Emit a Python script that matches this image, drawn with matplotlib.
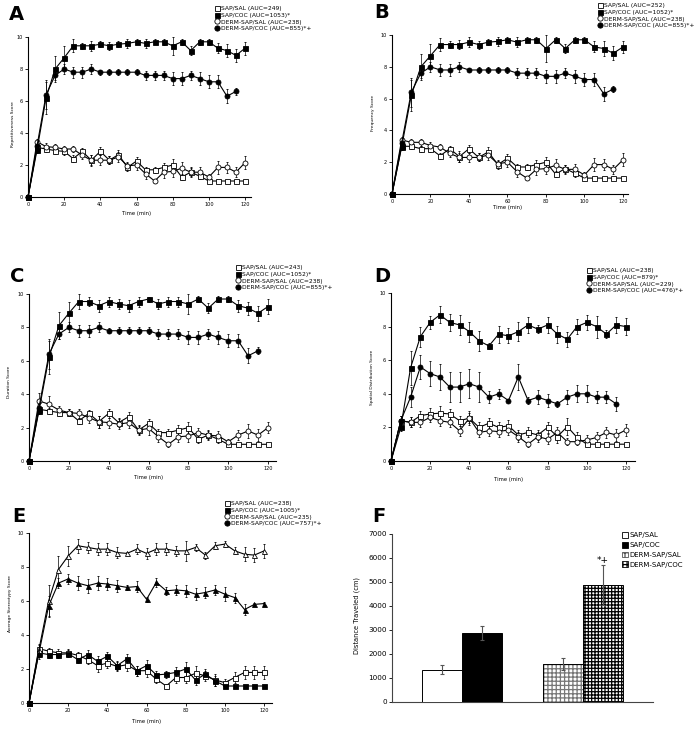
import matplotlib
matplotlib.use('Agg')
import matplotlib.pyplot as plt
from matplotlib.lines import Line2D
from matplotlib.patches import Patch

plt.rcParams['font.family'] = ['DejaVu Sans']
plt.rcParams['hatch.linewidth'] = 0.9

W, H = 698, 729
fig = plt.figure(figsize=(6.98, 7.29), dpi=100)

time = list(range(0, 125, 5))
time_dc = list(range(0, 120, 5))

# ---------------- Panel A: Repetitiveness ----------------
a_sap_sal = [0, 3.1, 3.0, 2.9, 2.85, 2.4, 2.85, 2.3, 2.85, 2.3, 2.65, 1.85, 2.25, 1.7, 1.7, 1.85, 2.0, 1.25, 1.55, 1.3, 1.0, 1.0, 1.0, 1.0, 1.0]
a_sap_sal_err = [0, 0.2, 0.2, 0.2, 0.2, 0.2, 0.2, 0.35, 0.25, 0.25, 0.3, 0.25, 0.25, 0.2, 0.2, 0.3, 0.35, 0.2, 0.25, 0.2, 0.1, 0, 0, 0, 0]
a_sap_coc = [0, 2.95, 6.2, 8.0, 8.7, 9.45, 9.45, 9.45, 9.55, 9.45, 9.55, 9.6, 9.7, 9.6, 9.7, 9.7, 9.45, 9.7, 9.15, 9.7, 9.7, 9.3, 9.15, 8.85, 9.3]
a_sap_coc_err = [0, 0.2, 1.0, 0.8, 0.75, 0.4, 0.2, 0.3, 0.2, 0.25, 0.2, 0.3, 0.15, 0.3, 0.15, 0.2, 0.55, 0.2, 0.3, 0.2, 0.2, 0.3, 0.4, 0.4, 0.4]
a_derm_sal = [0, 3.45, 3.15, 3.1, 3.0, 3.0, 2.6, 2.3, 2.3, 2.3, 2.5, 1.95, 2.0, 1.45, 1.0, 1.55, 1.6, 1.8, 1.55, 1.55, 1.25, 1.85, 1.85, 1.55, 2.15]
a_derm_sal_err = [0, 0.2, 0.2, 0.2, 0.2, 0.2, 0.25, 0.3, 0.3, 0.25, 0.3, 0.25, 0.3, 0.3, 0.15, 0.35, 0.35, 0.4, 0.3, 0.35, 0.2, 0.4, 0.35, 0.3, 0.4]
a_derm_coc = [0, 3.2, 6.4, 7.6, 8.0, 7.8, 7.8, 8.0, 7.8, 7.8, 7.8, 7.8, 7.8, 7.6, 7.6, 7.6, 7.4, 7.4, 7.6, 7.4, 7.2, 7.2, 6.3, 6.6]
a_derm_coc_err = [0, 0.2, 0.9, 0.3, 0.3, 0.35, 0.35, 0.3, 0.15, 0.2, 0.2, 0.2, 0.2, 0.3, 0.3, 0.3, 0.4, 0.4, 0.3, 0.4, 0.4, 0.4, 0.45, 0.2]
a_labels = ['SAP/SAL (AUC=249)', 'SAP/COC (AUC=1053)*', 'DERM-SAP/SAL (AUC=238)', 'DERM-SAP/COC (AUC=855)*+']

# ---------------- Panel B: Frequency ----------------
b_sap_sal = [0, 3.0, 3.0, 2.85, 2.85, 2.4, 2.85, 2.35, 2.85, 2.3, 2.65, 1.85, 2.25, 1.7, 1.7, 1.85, 2.0, 1.25, 1.6, 1.3, 1.0, 1.0, 1.0, 1.0, 1.0]
b_sap_sal_err = [0, 0.2, 0.2, 0.2, 0.2, 0.2, 0.2, 0.35, 0.25, 0.25, 0.3, 0.25, 0.25, 0.2, 0.2, 0.3, 0.35, 0.2, 0.25, 0.2, 0.1, 0, 0, 0, 0]
b_sap_coc = [0, 2.95, 6.2, 8.0, 8.7, 9.4, 9.4, 9.4, 9.55, 9.4, 9.55, 9.6, 9.7, 9.55, 9.7, 9.7, 9.15, 9.7, 9.15, 9.7, 9.7, 9.25, 9.15, 8.85, 9.25]
b_sap_coc_err = [0, 0.2, 1.0, 0.8, 0.75, 0.4, 0.2, 0.3, 0.3, 0.25, 0.2, 0.3, 0.15, 0.3, 0.15, 0.2, 0.85, 0.2, 0.3, 0.2, 0.2, 0.35, 0.45, 0.45, 0.4]
b_derm_sal = [0, 3.4, 3.25, 3.25, 3.05, 2.95, 2.55, 2.3, 2.3, 2.3, 2.45, 1.9, 2.0, 1.4, 1.0, 1.55, 1.6, 1.8, 1.55, 1.55, 1.2, 1.85, 1.85, 1.55, 2.15]
b_derm_sal_err = [0, 0.2, 0.2, 0.2, 0.2, 0.2, 0.25, 0.3, 0.3, 0.25, 0.3, 0.25, 0.3, 0.3, 0.15, 0.35, 0.35, 0.4, 0.3, 0.35, 0.2, 0.4, 0.35, 0.3, 0.4]
b_derm_coc = [0, 3.2, 6.4, 7.6, 8.0, 7.8, 7.8, 8.0, 7.8, 7.8, 7.8, 7.8, 7.8, 7.6, 7.6, 7.6, 7.4, 7.4, 7.6, 7.4, 7.2, 7.2, 6.3, 6.6]
b_derm_coc_err = [0, 0.2, 0.9, 0.3, 0.3, 0.35, 0.35, 0.3, 0.15, 0.2, 0.2, 0.2, 0.2, 0.3, 0.3, 0.3, 0.4, 0.4, 0.3, 0.4, 0.4, 0.4, 0.45, 0.2]
b_labels = ['SAP/SAL (AUC=252)', 'SAP/COC (AUC=1052)*', 'DERM-SAP/SAL (AUC=238)', 'DERM-SAP/COC (AUC=855)*+']

# ---------------- Panel C: Duration ----------------
c_sap_sal = [0, 3.1, 3.0, 2.9, 2.9, 2.4, 2.85, 2.35, 2.85, 2.3, 2.65, 1.85, 2.25, 1.7, 1.7, 1.85, 2.0, 1.3, 1.55, 1.3, 1.0, 1.0, 1.0, 1.0, 1.0]
c_sap_sal_err = [0, 0.2, 0.2, 0.2, 0.2, 0.2, 0.2, 0.35, 0.25, 0.25, 0.3, 0.25, 0.25, 0.2, 0.2, 0.3, 0.35, 0.2, 0.25, 0.2, 0.1, 0, 0, 0, 0]
c_sap_coc = [0, 3.0, 6.2, 8.1, 8.85, 9.55, 9.55, 9.3, 9.55, 9.4, 9.3, 9.55, 9.7, 9.4, 9.55, 9.55, 9.4, 9.7, 9.15, 9.7, 9.7, 9.3, 9.15, 8.85, 9.25]
c_sap_coc_err = [0, 0.2, 1.0, 0.8, 0.7, 0.45, 0.25, 0.35, 0.3, 0.3, 0.35, 0.3, 0.15, 0.3, 0.3, 0.3, 0.6, 0.2, 0.3, 0.2, 0.2, 0.35, 0.4, 0.45, 0.45]
c_derm_sal = [0, 3.6, 3.4, 3.05, 2.9, 2.85, 2.6, 2.35, 2.3, 2.2, 2.3, 1.85, 1.95, 1.45, 1.0, 1.45, 1.5, 1.7, 1.55, 1.5, 1.15, 1.55, 1.8, 1.55, 2.0]
c_derm_sal_err = [0, 0.45, 0.5, 0.25, 0.2, 0.25, 0.3, 0.35, 0.3, 0.3, 0.35, 0.3, 0.4, 0.3, 0.15, 0.3, 0.35, 0.3, 0.3, 0.3, 0.15, 0.3, 0.4, 0.35, 0.35]
c_derm_coc = [0, 3.2, 6.4, 7.6, 8.0, 7.8, 7.8, 8.0, 7.8, 7.8, 7.8, 7.8, 7.8, 7.6, 7.6, 7.6, 7.4, 7.4, 7.6, 7.4, 7.2, 7.2, 6.3, 6.6]
c_derm_coc_err = [0, 0.2, 0.9, 0.3, 0.3, 0.35, 0.35, 0.3, 0.15, 0.2, 0.2, 0.2, 0.2, 0.3, 0.3, 0.3, 0.4, 0.4, 0.3, 0.4, 0.4, 0.4, 0.45, 0.2]
c_labels = ['SAP/SAL (AUC=243)', 'SAP/COC (AUC=1052)*', 'DERM-SAP/SAL (AUC=238)', 'DERM-SAP/COC (AUC=855)*+']

# ---------------- Panel D: Spatial distribution ----------------
d_sap_sal = [0, 2.4, 2.3, 2.7, 2.8, 2.85, 2.8, 2.4, 2.55, 2.0, 2.25, 2.0, 2.1, 1.55, 1.7, 1.55, 2.0, 1.45, 2.05, 1.4, 1.0, 1.0, 1.0, 1.0, 1.0]
d_sap_sal_err = [0, 0.3, 0.3, 0.3, 0.35, 0.4, 0.3, 0.3, 0.4, 0.3, 0.3, 0.3, 0.35, 0.3, 0.3, 0.3, 0.35, 0.4, 0.5, 0.35, 0.1, 0, 0, 0, 0]
d_sap_coc = [0, 2.0, 5.55, 7.4, 8.25, 8.7, 8.25, 8.1, 7.7, 7.15, 6.85, 7.55, 7.45, 7.7, 8.1, 7.85, 8.1, 7.55, 7.25, 8.0, 8.25, 8.0, 7.55, 8.1, 8.0]
d_sap_coc_err = [0, 0.2, 1.0, 0.6, 0.4, 0.5, 0.5, 0.6, 0.6, 0.6, 0.2, 0.5, 0.45, 0.55, 0.5, 0.25, 0.5, 0.5, 0.45, 0.45, 0.45, 0.65, 0.25, 0.5, 0.5]
d_derm_sal = [0, 2.4, 2.3, 2.3, 2.6, 2.4, 2.3, 1.8, 2.55, 1.7, 1.8, 1.75, 1.85, 1.45, 1.0, 1.45, 1.3, 1.7, 1.15, 1.15, 1.25, 1.4, 1.7, 1.55, 1.85]
d_derm_sal_err = [0, 0.3, 0.3, 0.3, 0.3, 0.3, 0.3, 0.3, 0.3, 0.3, 0.3, 0.3, 0.3, 0.3, 0.15, 0.3, 0.3, 0.3, 0.2, 0.2, 0.3, 0.3, 0.35, 0.35, 0.35]
d_derm_coc = [0, 2.4, 3.8, 5.6, 5.2, 5.0, 4.4, 4.4, 4.6, 4.4, 3.8, 4.0, 3.6, 5.0, 3.6, 3.8, 3.6, 3.4, 3.8, 4.0, 4.0, 3.8, 3.8, 3.4]
d_derm_coc_err = [0, 0.3, 0.6, 0.7, 0.75, 0.75, 0.9, 0.9, 0.85, 0.9, 0.35, 0.3, 0.1, 0.75, 0.2, 0.4, 0.4, 0.2, 0.4, 0.5, 0.5, 0.35, 0.35, 0.4]
d_labels = ['SAP/SAL (AUC=238)', 'SAP/COC (AUC=879)*', 'DERM-SAP/SAL (AUC=229)', 'DERM-SAP/COC (AUC=476)*+']

# ---------------- Panel E: Average stereotypy ----------------
e_sap_sal = [0, 2.95, 2.85, 2.85, 2.9, 2.55, 2.85, 2.45, 2.75, 2.2, 2.6, 1.9, 2.2, 1.65, 1.7, 1.8, 2.0, 1.35, 1.7, 1.3, 1.0, 1.0, 1.0, 1.0, 1.0]
e_sap_sal_err = [0, 0.2, 0.2, 0.2, 0.2, 0.2, 0.25, 0.3, 0.25, 0.25, 0.3, 0.3, 0.35, 0.25, 0.2, 0.3, 0.4, 0.3, 0.3, 0.3, 0.1, 0, 0, 0, 0]
e_sap_coc = [0, 3.1, 6.0, 7.85, 8.65, 9.25, 9.15, 9.05, 9.05, 8.85, 8.8, 9.05, 8.8, 9.05, 9.05, 8.95, 8.95, 9.15, 8.7, 9.25, 9.35, 8.95, 8.75, 8.7, 8.95]
e_sap_coc_err = [0, 0.4, 0.95, 0.8, 0.6, 0.4, 0.35, 0.35, 0.35, 0.3, 0.1, 0.3, 0.3, 0.35, 0.35, 0.3, 0.6, 0.2, 0.2, 0.2, 0.2, 0.2, 0.4, 0.4, 0.4]
e_derm_sal = [0, 3.2, 3.05, 2.95, 2.95, 2.8, 2.55, 2.2, 2.35, 2.15, 2.25, 1.9, 1.9, 1.4, 1.0, 1.5, 1.5, 1.75, 1.6, 1.35, 1.2, 1.5, 1.8, 1.8, 1.8]
e_derm_sal_err = [0, 0.2, 0.2, 0.2, 0.2, 0.2, 0.25, 0.4, 0.3, 0.25, 0.35, 0.3, 0.35, 0.25, 0.1, 0.35, 0.35, 0.4, 0.3, 0.35, 0.2, 0.35, 0.4, 0.4, 0.4]
e_derm_coc = [0, 2.9, 5.7, 7.05, 7.3, 7.05, 6.9, 7.05, 7.0, 6.9, 6.8, 6.85, 6.1, 7.1, 6.6, 6.65, 6.6, 6.4, 6.5, 6.65, 6.4, 6.2, 5.5, 5.8, 5.85]
e_derm_coc_err = [0, 0.3, 0.6, 0.3, 0.3, 0.4, 0.4, 0.4, 0.35, 0.35, 0.15, 0.3, 0.15, 0.25, 0.25, 0.3, 0.35, 0.35, 0.35, 0.3, 0.4, 0.3, 0.3, 0.1, 0.1]
e_labels = ['SAP/SAL (AUC=238)', 'SAP/COC (AUC=1005)*', 'DERM-SAP/SAL (AUC=235)', 'DERM-SAP/COC (AUC=757)*+']

# ---------------- Panel F: Distance traveled ----------------
f_groups = ['SAP/SAL', 'SAP/COC', 'DERM-SAP/SAL', 'DERM-SAP/COC']
f_values = [1350, 2870, 1600, 4870]
f_errors = [180, 300, 250, 830]
f_positions = [1.25, 2.25, 4.27, 5.27]


def add_ax(l, t, r, b):
    return fig.add_axes([l / W, 1 - b / H, (r - l) / W, (b - t) / H])


def style_ax(ax, tick_fs=3.6):
    for s in ['top', 'right']:
        ax.spines[s].set_visible(False)
    for s in ['left', 'bottom']:
        ax.spines[s].set_linewidth(0.8)
    ax.tick_params(direction='out', length=2, width=0.6, labelsize=tick_fs, pad=1.5)


def plot_series(ax, x, y, err, marker, filled, ms=3.6, z=3):
    ax.errorbar(x, y, yerr=err, color='black', lw=0.8, marker=marker, ms=ms,
                mfc='black' if filled else 'white', mec='black', mew=0.6,
                elinewidth=0.5, capsize=1.0, capthick=0.5, clip_on=False, zorder=z)


def legend_for(ax, labels, px, py, fs=4.3, spacing=0.25):
    handles = [
        Line2D([], [], ls='none', marker='s', ms=3.6, mfc='white', mec='black', mew=0.6),
        Line2D([], [], ls='none', marker='s', ms=3.6, mfc='black', mec='black', mew=0.6),
        Line2D([], [], ls='none', marker='o', ms=3.8, mfc='white', mec='black', mew=0.6),
        Line2D([], [], ls='none', marker='o', ms=3.8, mfc='black', mec='black', mew=0.6),
    ]
    ax.legend(handles, labels, loc='upper left', bbox_to_anchor=(px / W, 1 - py / H),
              bbox_transform=fig.transFigure, frameon=False, fontsize=fs,
              handlelength=1.0, handletextpad=0.2, labelspacing=spacing,
              borderpad=0, borderaxespad=0)


def line_panel(box, xmax, series, labels, leg_xy, ylabel, ylabel_xy, xlabel_y, letter, letter_xy):
    l, t, r, b = box
    ax = add_ax(l, t, r, b)
    style_ax(ax)
    ax.set_xlim(0, xmax)
    ax.set_ylim(0, 10)
    ax.set_xticks(range(0, 121, 20))
    ax.set_yticks(range(0, 11, 2))
    for (x, y, e, m, f) in series:
        plot_series(ax, x, y, e, m, f)
    legend_for(ax, labels, *leg_xy)
    fig.text(ylabel_xy[0] / W, 1 - ylabel_xy[1] / H, ylabel, rotation=90,
             ha='center', va='center', fontsize=3.2)
    x_mid = ax.transData.transform((60, 0))[0]
    fig.text(x_mid / (W), 1 - xlabel_y / H, 'Time (min)', ha='center', va='center', fontsize=3.8)
    fig.text(letter_xy[0] / W, 1 - letter_xy[1] / H, letter, fontsize=14, fontweight='bold',
             ha='left', va='center')
    return ax


# A
line_panel((28, 37, 251, 197), 123.3,
           [(time, a_sap_sal, a_sap_sal_err, 's', False),
            (time, a_derm_sal, a_derm_sal_err, 'o', False),
            (time, a_sap_coc, a_sap_coc_err, 's', True),
            (time_dc, a_derm_coc, a_derm_coc_err, 'o', True)],
           a_labels, (214, 6), 'Repetitiveness Score', (13, 124), 214, 'A', (9, 14))

# B
line_panel((392, 35, 628, 194), 122.6,
           [(time, b_sap_sal, b_sap_sal_err, 's', False),
            (time, b_derm_sal, b_derm_sal_err, 'o', False),
            (time, b_sap_coc, b_sap_coc_err, 's', True),
            (time_dc, b_derm_coc, b_derm_coc_err, 'o', True)],
           b_labels, (597, 3), 'Frequency Score', (373, 113), 208, 'B', (374, 12))

# C
line_panel((29, 294, 276, 461), 124.0,
           [(time, c_sap_sal, c_sap_sal_err, 's', False),
            (time, c_derm_sal, c_derm_sal_err, 'o', False),
            (time, c_sap_coc, c_sap_coc_err, 's', True),
            (time_dc, c_derm_coc, c_derm_coc_err, 'o', True)],
           c_labels, (235, 265), 'Duration Score', (9, 382), 478, 'C', (10, 277))

# D
line_panel((391, 293, 635, 461), 124.6,
           [(time, d_sap_sal, d_sap_sal_err, 's', False),
            (time, d_derm_sal, d_derm_sal_err, 'o', False),
            (time, d_sap_coc, d_sap_coc_err, 's', True),
            (time_dc, d_derm_coc, d_derm_coc_err, 'o', True)],
           d_labels, (586, 268), 'Spatial Distribution Score', (372, 377), 479, 'D', (374, 276))

# E
line_panel((29, 533, 272, 703), 124.0,
           [(time, e_derm_sal, e_derm_sal_err, 's', False),
            (time, e_sap_sal, e_sap_sal_err, 's', True),
            (time, e_sap_coc, e_sap_coc_err, '^', False),
            (time, e_derm_coc, e_derm_coc_err, '^', True)],
           e_labels, (224, 501), 'Average Stereotypy Score', (10, 603), 722, 'E', (12, 516))

# F
axf = add_ax(392, 534, 653, 702)
style_ax(axf, tick_fs=5.2)
axf.set_xlim(0, 6.525)
axf.set_ylim(0, 7000)
axf.set_yticks(range(0, 7001, 1000))
axf.set_xticks([])
axf.spines['bottom'].set_color('#444444')
axf.spines['left'].set_color('#444444')
fills = ['white', 'black', 'white', 'white']
hatches = [None, None, '++++', '+++++']
hcolors = ['black', 'black', '#777777', 'black']
for pos, v, e, fc, h, hc in zip(f_positions, f_values, f_errors, fills, hatches, hcolors):
    if h:
        axf.bar(pos, v, width=1.0, color=fc, edgecolor=hc, hatch=h, lw=0, zorder=2)
        axf.bar(pos, v, width=1.0, fill=False, edgecolor='black', lw=0.7, zorder=3)
    else:
        axf.bar(pos, v, width=1.0, color=fc, edgecolor='black', lw=0.7, zorder=3)
    axf.errorbar(pos, v, yerr=e, color='#555555', elinewidth=0.8, capsize=1.5, capthick=0.8,
                 ls='none', zorder=4)
axf.text(f_positions[3], 5900, '*+', ha='center', va='center', fontsize=6.5)
fhandles = [Patch(facecolor=fc, edgecolor=ec, hatch=h, lw=0.6)
            for fc, ec, h in zip(fills, ['black', 'black', '#555555', 'black'],
                                 [None, None, '+++', '++++'])]
axf.legend(fhandles, f_groups, loc='upper left', bbox_to_anchor=(622 / W, 1 - 532 / H),
           bbox_transform=fig.transFigure, frameon=False, fontsize=5.0,
           handlelength=0.8, handleheight=0.9, handletextpad=0.3, labelspacing=0.5,
           borderpad=0, borderaxespad=0)
fig.text(357 / W, 1 - 615 / H, 'Distance Traveled (cm)', rotation=90, ha='center', va='center',
         fontsize=4.8)
fig.text(372 / W, 1 - 516 / H, 'F', fontsize=14, fontweight='bold', ha='left', va='center')

fig.savefig('out.png', dpi=100)
